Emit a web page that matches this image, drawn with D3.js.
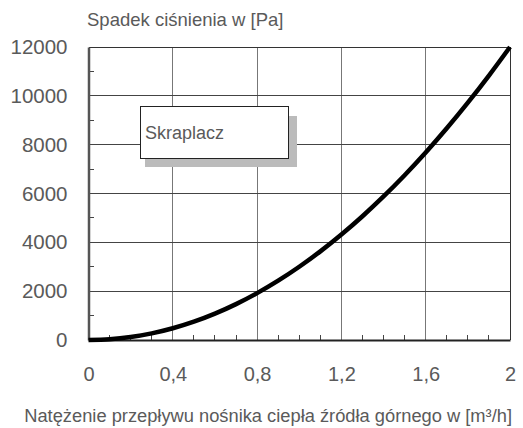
<!DOCTYPE html>
<html><head><meta charset="utf-8">
<script src="https://cdn.jsdelivr.net/npm/d3@7"></script>
<style>body{margin:0;background:#fff}svg{display:block}text{font-family:"Liberation Sans",Arial,sans-serif;fill:#5a5a5a}</style>
</head><body>
<svg id="c" width="523" height="428"></svg>
<script>
const flowValues = [0,0.1,0.2,0.3,0.4,0.5,0.6,0.7,0.8,0.9,1.0,1.1,1.2,1.3,1.4,1.5,1.6,1.7,1.8,1.9,2.0];
const pressureDrop = [0,30,120,270,480,750,1080,1470,1920,2430,3000,3630,4320,5070,5880,6750,7680,8670,9720,10830,12000];
const xTicks = [0,0.4,0.8,1.2,1.6,2];
const yTicks = [0,2000,4000,6000,8000,10000,12000];
const seriesName = "Skraplacz";
const yTitle = "Spadek ciśnienia w [Pa]";
const xTitle = "Natężenie przepływu nośnika ciepła źródła górnego w [m³/h]";

const svg = d3.select("#c");
const L=88.5,R=510,T=47,B=340;
const x = d3.scaleLinear().domain([0,2]).range([L,R]);
const y = d3.scaleLinear().domain([0,12000]).range([B,T]);

// grid
svg.append("g").selectAll("line").data(xTicks.slice(1,-1)).join("line")
  .attr("x1",d=>x(d)).attr("x2",d=>x(d)).attr("y1",T).attr("y2",B)
  .attr("stroke","#777").attr("stroke-width",1).attr("shape-rendering","crispEdges");
svg.append("g").selectAll("line").data(yTicks.slice(1,-1)).join("line")
  .attr("x1",L).attr("x2",R).attr("y1",d=>y(d)).attr("y2",d=>y(d))
  .attr("stroke","#444").attr("stroke-width",1).attr("shape-rendering","crispEdges");
// frame top/right
svg.append("line").attr("x1",L).attr("x2",R).attr("y1",T).attr("y2",T).attr("stroke","#333").attr("shape-rendering","crispEdges");
svg.append("line").attr("x1",R).attr("x2",R).attr("y1",T).attr("y2",B).attr("stroke","#333").attr("shape-rendering","crispEdges");

// minor ticks
const yMinor = d3.range(1000,12000,2000);
svg.append("g").selectAll("line").data(yMinor).join("line")
  .attr("x1",L).attr("x2",L+5).attr("y1",d=>y(d)).attr("y2",d=>y(d))
  .attr("stroke","#444").attr("shape-rendering","crispEdges");
const xMinor = d3.range(1,20).map(i=>i/10).filter(v=>Math.abs(v*10/4-Math.round(v*10/4))>1e-6);
svg.append("g").selectAll("line").data(xMinor).join("line")
  .attr("x1",d=>x(d)).attr("x2",d=>x(d)).attr("y1",B).attr("y2",B-5)
  .attr("stroke","#444").attr("shape-rendering","crispEdges");

// axes
const fmt = d=> String(d).replace(".",",");
const xa = svg.append("g").attr("transform",`translate(0,${B})`)
  .call(d3.axisBottom(x).tickValues(xTicks).tickFormat(fmt).tickSize(0).tickPadding(27));
xa.select(".domain").attr("stroke","#222").attr("stroke-width",2);
xa.selectAll("text").attr("font-size",20).style("fill","#5a5a5a").attr("font-family","Liberation Sans, Arial, sans-serif");
const ya = svg.append("g").attr("transform",`translate(${L},0)`)
  .call(d3.axisLeft(y).tickValues(yTicks).tickFormat(d=>d).tickSize(0).tickPadding(21));
ya.select(".domain").attr("stroke","#555").attr("stroke-width",2.5);
ya.selectAll("text").attr("font-size",20.5).style("fill","#5a5a5a").attr("font-family","Liberation Sans, Arial, sans-serif");

// curve
const pts = flowValues.map((v,i)=>[v,pressureDrop[i]]);
svg.append("path").datum(pts)
  .attr("d",d3.line().x(d=>x(d[0])).y(d=>y(d[1])).curve(d3.curveMonotoneX))
  .attr("fill","none").attr("stroke","#000").attr("stroke-width",4.5);

// legend
svg.append("rect").attr("x",145).attr("y",116).attr("width",152).attr("height",51).attr("fill","#bbb");
svg.append("rect").attr("x",140.5).attr("y",106.5).attr("width",148).attr("height",52).attr("fill","#fff").attr("stroke","#222").attr("stroke-width",1);
svg.append("text").attr("x",145).attr("y",139).attr("font-size",18).text(seriesName);

// titles
svg.append("text").attr("x",87).attr("y",26).attr("font-size",18.5).text(yTitle);
svg.append("text").attr("x",512).attr("y",422).attr("text-anchor","end").attr("font-size",18.3).text(xTitle);
</script>
</body></html>
